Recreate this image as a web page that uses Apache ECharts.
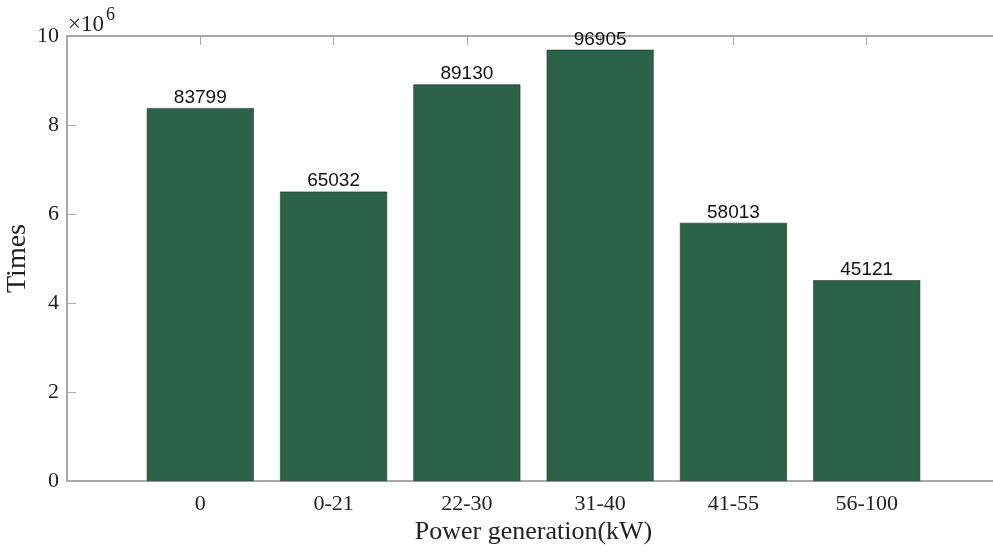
<!DOCTYPE html>
<html>
<head>
<meta charset="utf-8">
<script src="https://cdn.jsdelivr.net/npm/echarts@6/dist/echarts.min.js"></script>
<style>
  html, body { margin: 0; padding: 0; background: #fff; }
  #chart { width: 993px; height: 552px; }
</style>
</head>
<body>
<div id="chart"></div>
<script>
// Power generation bins and the count recorded in each bin
const categories = ['0', '0-21', '22-30', '31-40', '41-55', '56-100'];
const counts = [83799, 65032, 89130, 96905, 58013, 45121];
const yTicks = [0, 20000, 40000, 60000, 80000, 100000];

const serif = 'Liberation Serif, Times New Roman, serif';
const sans = 'Liberation Sans, Arial, sans-serif';
const axisGray = '#8a8a8a';

// bars sit at positions 1..n on a value axis that spans 0..n+1
const barData = counts.map((v, i) => [i + 1, v]);

const chart = echarts.init(document.getElementById('chart'));
chart.setOption({
  animation: false,
  backgroundColor: '#ffffff',
  grid: {
    left: 67, top: 36, width: 933, height: 445,
    containLabel: false,
    outerBoundsMode: 'none'
  },
  xAxis: [{
    type: 'value',
    min: 0,
    max: categories.length + 1,
    interval: 1,
    position: 'bottom',
    name: 'Power generation(kW)',
    nameLocation: 'middle',
    nameGap: 38,
    nameMoveOverlap: false,
    nameTextStyle: { fontFamily: serif, fontSize: 26, color: '#222' },
    axisLine: { show: true, lineStyle: { color: axisGray, width: 1.5 } },
    axisTick: { show: true, inside: true, length: 9, lineStyle: { color: '#aaa' } },
    axisLabel: {
      margin: 12,
      fontFamily: serif, fontSize: 22, color: '#222',
      formatter: v => categories[v - 1] || ''
    },
    splitLine: { show: false }
  }, {
    type: 'value',
    min: 0,
    max: categories.length + 1,
    interval: 1,
    position: 'top',
    axisLine: { show: true, onZero: false, lineStyle: { color: axisGray, width: 1.5 } },
    axisTick: { show: true, inside: true, length: 9, lineStyle: { color: '#aaa' } },
    axisLabel: { show: false },
    splitLine: { show: false }
  }],
  yAxis: {
    type: 'value',
    min: yTicks[0],
    max: yTicks[yTicks.length - 1],
    interval: yTicks[1] - yTicks[0],
    name: 'Times',
    nameLocation: 'middle',
    nameRotate: 90,
    nameGap: 35,
    nameMoveOverlap: false,
    nameTextStyle: { fontFamily: serif, fontSize: 28, color: '#222' },
    axisLine: { show: true, lineStyle: { color: axisGray, width: 1.5 } },
    axisTick: { show: true, inside: true, length: 9, lineStyle: { color: '#aaa' } },
    axisLabel: {
      margin: 8,
      fontFamily: serif, fontSize: 22, color: '#222',
      formatter: v => String(v / 10000)
    },
    splitLine: { show: false }
  },
  // axis multiplier written above the top-left corner
  graphic: [{
    type: 'text',
    left: 68,
    top: 13,
    style: { text: '×10', fontFamily: serif, fontSize: 23, fill: '#222' }
  }, {
    type: 'text',
    left: 106,
    top: 6,
    style: { text: '6', fontFamily: serif, fontSize: 18, fill: '#222' }
  }],
  series: [{
    type: 'bar',
    xAxisIndex: 0,
    data: barData,
    barWidth: 107,
    itemStyle: { color: '#2b6249', borderColor: '#1d3b2d', borderWidth: 0.6 },
    label: {
      show: true,
      position: 'top',
      distance: 1,
      fontFamily: sans,
      fontSize: 19,
      color: '#111',
      formatter: p => String(p.value[1])
    }
  }]
});
</script>
</body>
</html>
